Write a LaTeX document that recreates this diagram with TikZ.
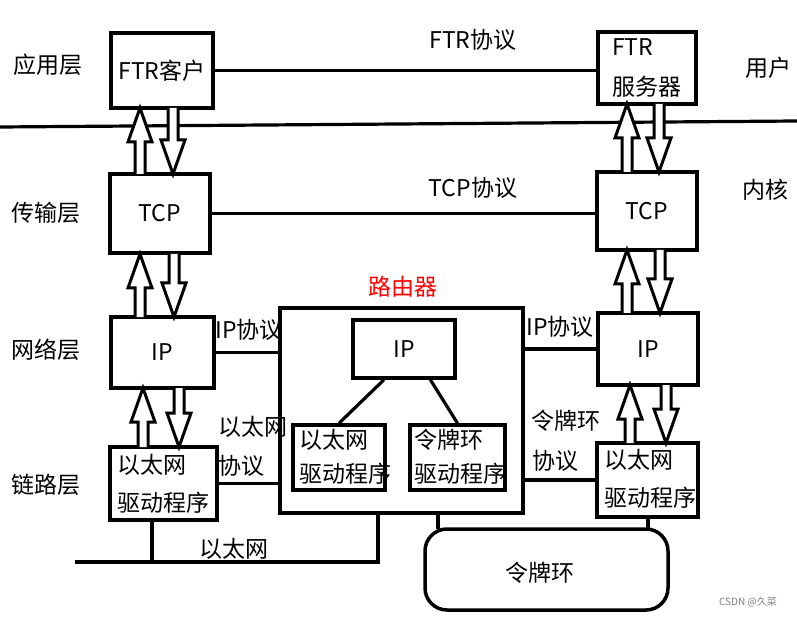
\documentclass[tikz,border=0pt]{standalone}
\usepackage{fontspec}
\setmainfont{Noto Sans CJK SC}
\usetikzlibrary{calc}

\tikzset{
  box/.style={draw, line width=3.5pt, inner sep=0pt, font=\fontsize{23}{27}\selectfont},
  lbl/.style={inner sep=0pt, font=\fontsize{23}{27}\selectfont},
  twoline/.style={inner sep=0pt, align=left, anchor=west, font=\fontsize{23}{#1}\selectfont},
  twoline/.default=37,
  hollow/.style={draw, fill=white, line width=3pt, line join=miter},
  wire/.style={line width=3.2pt},
}

\begin{document}
\begin{tikzpicture}[x=1pt,y=-1pt]
		\newcommand\fatarrow[3]{ %% argument 1: x-position, argument 2: tail y, argument 3: tip y
			\pgfmathsetmacro\headbase{#3+(#2>#3?34:-34)}
			\draw[hollow] (#1-5,#2) -- (#1-5,\headbase) -- (#1-12,\headbase) -- (#1,#3)
				-- (#1+12,\headbase) -- (#1+5,\headbase) -- (#1+5,#2);
		}
		\useasboundingbox (0,0) rectangle (797,617);
		
		%% left host
		\node[box, minimum width=102pt, minimum height=75pt] (ftpC) at (162,70.5) {FTR客户};
		\node[box, minimum width=100pt, minimum height=79pt] (tcpL) at (160,213.5) {TCP};
		\node[box, minimum width=103pt, minimum height=71pt] (ipL) at (162.5,352.5) {IP};
		\node[box, minimum width=107pt, minimum height=73pt] (drvL) at (163.5,483.5) {};
		\node[twoline=38] (drvLt) at (117,484) {以太网\\驱动程序};
		
		%% right host
		\node[box, minimum width=98pt, minimum height=72pt] (ftpS) at (647,68) {};
		\node[twoline=40] (ftpSt) at (612,68) {FTR\\服务器};
		\node[box, minimum width=100pt, minimum height=78pt] (tcpR) at (647,211) {TCP};
		\node[box, minimum width=100pt, minimum height=72pt] (ipR) at (648,349) {IP};
		\node[box, minimum width=101pt, minimum height=74pt] (drvR) at (647.5,480) {};
		\node[twoline=38] (drvRt) at (604,479) {以太网\\驱动程序};
		
		%% router
		\node[box, minimum width=243pt, minimum height=205pt] (router) at (401.5,410.5) {};
		\node[box, minimum width=102pt, minimum height=58pt] (ipM) at (404,349) {IP};
		\node[box, minimum width=92pt, minimum height=65pt] (drvE) at (339,457.5) {};
		\node[box, minimum width=95pt, minimum height=65pt] (drvT) at (457.5,457.5) {};
		\node[twoline=34] (drvEt) at (299,457) {以太网\\驱动程序};
		\node[twoline=34] (drvTt) at (414,457) {令牌环\\驱动程序};
		\draw[wire] ($(ipM.south west)!0.31!(ipM.south east)$) -- (drvE.north);
		\draw[wire] ($(ipM.south west)!0.75!(ipM.south east)$) -- (drvT.north);
		
		%% token ring
		\node[box, rounded corners=22pt, minimum width=243pt, minimum height=81pt] (ring) at (546.5,569.5) {};
		\node[lbl] (ringt) at (540,573) {令牌环};
		\coordinate (tapR1) at (438,529);
		\coordinate (tapR2) at (648,529);
		\draw[wire] (tapR1) -- (tapR1 |- router.south);
		\draw[wire] (tapR2) -- (tapR2 |- drvR.south);
		
		%% ethernet
		\coordinate (busL) at (75,562);
		\coordinate (busR) at (378,562);
		\coordinate (tapE) at (152,562);
		\draw[wire] (busL) -- (busR) -- (busR |- router.south);
		\draw[wire] (tapE) -- (tapE |- drvL.south);
		
		%% protocol lines
		\draw[wire] (ftpC.east) -- (ftpC.east -| ftpS.west);
		\draw[wire] (tcpL.east) -- (tcpL.east -| tcpR.west);
		\draw[wire] (ipL.east) -- (ipL.east -| router.west);
		\draw[wire] (router.east |- ipR.west) -- (ipR.west);
		\draw[wire] (drvL.east) -- (drvL.east -| router.west);
		\draw[wire] (router.east |- drvR.west) -- (drvR.west);
		
		%% user / kernel
		\coordinate (sepL) at (0,127);
		\coordinate (sepR) at (797,121);
		\draw[wire] (sepL) -- (sepR);
		
		\fatarrow{140}{174}{108}
		\fatarrow{173}{108}{174}
		\fatarrow{140}{317}{254}
		\fatarrow{174}{254}{317}
		\fatarrow{143}{447}{388}
		\fatarrow{179}{388}{447}
		\fatarrow{627}{172}{104}
		\fatarrow{659}{104}{172}
		\fatarrow{627}{313}{250}
		\fatarrow{660}{250}{313}
		\fatarrow{630}{443}{385}
		\fatarrow{666}{385}{443}
		
		%% labels
		\node[lbl] (app) at (48,65) {应用层};
		\node[lbl] (trans) at (46,213) {传输层};
		\node[lbl] (net) at (46,350) {网络层};
		\node[lbl] (link) at (46,485) {链路层};
		\node[lbl] (user) at (768,68) {用户};
		\node[lbl] (kern) at (765,190) {内核};
		\node[lbl] (ftpP) at (473,40) {FTR协议};
		\node[lbl] (tcpP) at (473,188) {TCP协议};
		\node[lbl, text=red] (rname) at (403,287) {路由器};
		\node[lbl] (ipPL) at (249,330) {IP协议};
		\node[lbl] (ipPR) at (560,327) {IP协议};
		\node[lbl] (ethP1) at (253,427) {以太网};
		\node[lbl] (ethP2) at (241,466) {协议};
		\node[lbl] (tokP1) at (566,421) {令牌环};
		\node[lbl] (tokP2) at (555,461) {协议};
		\node[lbl] (bus) at (234,549) {以太网};
		\node[inner sep=0pt, text=gray, font=\fontsize{10}{12}\selectfont] (mark) at (748,602) {CSDN @久菜};
	\end{tikzpicture}
\end{document}
